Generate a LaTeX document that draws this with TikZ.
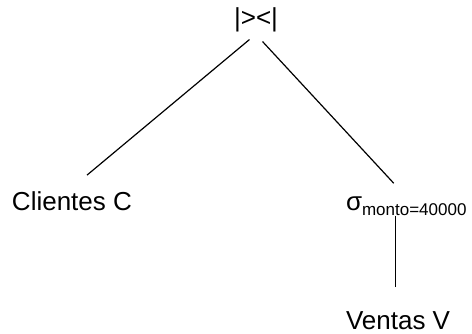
\documentclass[tikz,border=0pt]{standalone}
\usepackage{fontspec}
\setmainfont{Liberation Sans}
\begin{document}
\begin{tikzpicture}[x=1pt,y=-1pt,
  lbl/.style={inner sep=0pt,outer sep=0pt,anchor=base west,font=\fontsize{26}{31}\selectfont},
  edge/.style={line width=1.2pt,black}]
\useasboundingbox (0,0) rectangle (472,334);
% operator tree nodes
\node[lbl,anchor=base] (join) at (256,27) {|>{}<|};
\node[lbl] (cli) at (12,211) {Clientes C};
\node[lbl] (sig) at (346,211) {σ\raisebox{-5pt}{\fontsize{17}{20}\selectfont monto=40000}};
\node[lbl] (ven) at (346,330) {Ventas V};
% branches
\draw[edge] ([xshift=-6.5pt,yshift=-7pt]join.south) -- ([xshift=15pt,yshift=17pt]cli.north);
\draw[edge] ([xshift=6.5pt,yshift=-9pt]join.south) -- ([xshift=-12.5pt,yshift=14pt]sig.north);
\draw[edge] ([xshift=-2.5pt,yshift=25pt]ven.north) -- ([xshift=-2.5pt]ven.north |- sig.south);
\end{tikzpicture}
\end{document}
